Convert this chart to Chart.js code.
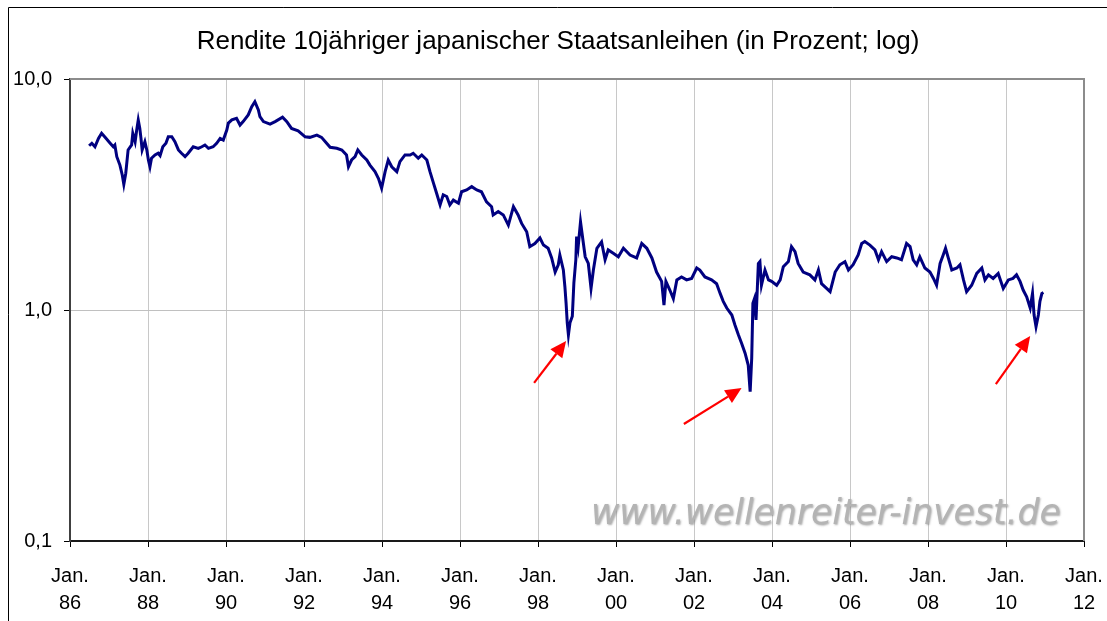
<!DOCTYPE html>
<html><head><meta charset="utf-8">
<script src="https://cdn.jsdelivr.net/npm/chart.js@4/dist/chart.umd.min.js"></script>
<style>html,body{margin:0;padding:0;background:#fff}#wrap{width:1107px;height:621px;position:relative}</style>
</head><body><div id="wrap"><canvas id="c" width="1107" height="621"></canvas></div>
<script>
const titleText = 'Rendite 10jähriger japanischer Staatsanleihen (in Prozent; log)';
const watermarkText = 'www.wellenreiter-invest.de';

// decimal years
const dates = [
1986.49,1986.56,1986.64,1986.73,1986.81,1986.90,1987.03,1987.11,1987.15,1987.20,
1987.28,1987.34,1987.38,1987.43,1987.49,1987.58,1987.61,1987.67,1987.71,1987.75,
1987.79,1987.82,1987.85,1987.92,1987.97,1988.01,1988.05,1988.09,1988.18,1988.26,
1988.31,1988.38,1988.46,1988.52,1988.61,1988.69,1988.78,1988.86,1988.95,1989.03,
1989.16,1989.29,1989.38,1989.46,1989.55,1989.67,1989.76,1989.85,1989.93,1990.02,
1990.06,1990.15,1990.27,1990.36,1990.44,1990.57,1990.66,1990.74,1990.83,1990.87,
1990.96,1991.13,1991.26,1991.45,1991.56,1991.68,1991.85,1992.03,1992.15,1992.33,
1992.45,1992.58,1992.67,1992.84,1992.97,1993.09,1993.14,1993.22,1993.31,1993.38,
1993.48,1993.61,1993.69,1993.82,1993.91,1993.99,1994.08,1994.16,1994.25,1994.38,
1994.46,1994.59,1994.72,1994.80,1994.93,1995.02,1995.15,1995.23,1995.32,1995.40,
1995.49,1995.57,1995.66,1995.74,1995.83,1995.96,1996.04,1996.17,1996.30,1996.43,
1996.55,1996.68,1996.81,1996.85,1996.98,1997.11,1997.24,1997.37,1997.49,1997.58,
1997.71,1997.79,1997.92,1998.05,1998.14,1998.26,1998.35,1998.44,1998.52,1998.56,
1998.65,1998.69,1998.72,1998.75,1998.78,1998.82,1998.88,1998.92,1998.97,1998.99,
1999.03,1999.09,1999.14,1999.21,1999.29,1999.36,1999.42,1999.51,1999.63,1999.72,
1999.80,1999.93,2000.06,2000.19,2000.36,2000.53,2000.66,2000.79,2000.92,2001.04,
2001.17,2001.23,2001.28,2001.38,2001.47,2001.56,2001.68,2001.81,2001.94,2002.07,
2002.15,2002.28,2002.45,2002.58,2002.67,2002.75,2002.84,2002.97,2003.05,2003.14,
2003.22,2003.31,2003.39,2003.44,2003.48,2003.51,2003.55,2003.59,2003.65,2003.69,
2003.73,2003.82,2003.91,2003.99,2004.12,2004.21,2004.29,2004.42,2004.50,2004.59,
2004.67,2004.80,2004.97,2005.10,2005.19,2005.27,2005.40,2005.49,2005.62,2005.74,
2005.87,2005.96,2006.08,2006.21,2006.30,2006.38,2006.51,2006.64,2006.73,2006.81,
2006.94,2007.07,2007.20,2007.32,2007.45,2007.54,2007.62,2007.71,2007.79,2007.92,
2008.05,2008.14,2008.22,2008.31,2008.39,2008.45,2008.52,2008.61,2008.74,2008.82,
2008.91,2008.99,2009.12,2009.25,2009.38,2009.46,2009.55,2009.67,2009.80,2009.93,
2010.06,2010.18,2010.27,2010.36,2010.44,2010.53,2010.62,2010.68,2010.72,2010.77,
2010.83,2010.87,2010.92,2010.96
];
// yield in percent
const yields = [
5.14,5.27,5.09,5.53,5.82,5.59,5.27,5.09,5.18,4.61,
4.24,3.84,3.50,3.91,4.93,5.18,5.82,5.35,6.01,6.65,
6.11,5.53,4.93,5.35,4.93,4.46,4.17,4.54,4.69,4.77,
4.66,5.09,5.27,5.62,5.62,5.35,4.93,4.77,4.61,4.77,
5.09,5.01,5.09,5.18,5.01,5.09,5.27,5.53,5.44,6.01,
6.44,6.65,6.76,6.32,6.54,6.99,7.59,7.97,7.34,6.87,
6.54,6.38,6.54,6.83,6.54,6.11,5.97,5.62,5.59,5.72,
5.59,5.27,5.06,5.01,4.93,4.69,4.17,4.46,4.61,4.93,
4.69,4.46,4.24,3.97,3.71,3.37,3.97,4.46,4.17,3.97,
4.39,4.69,4.69,4.77,4.54,4.69,4.46,3.97,3.54,3.20,
2.85,3.15,3.10,2.85,2.99,2.90,3.25,3.31,3.42,3.31,
3.25,2.94,2.80,2.58,2.67,2.58,2.33,2.80,2.58,2.37,
2.18,1.88,1.94,2.05,1.91,1.85,1.68,1.46,1.57,1.73,
1.49,1.26,1.07,0.88,0.78,0.88,0.94,1.31,1.65,2.08,
1.88,2.41,2.08,1.70,1.59,1.24,1.49,1.85,1.97,1.65,
1.82,1.76,1.70,1.85,1.73,1.68,1.94,1.85,1.68,1.46,
1.33,1.05,1.33,1.22,1.12,1.35,1.39,1.35,1.37,1.52,
1.49,1.39,1.35,1.30,1.18,1.09,1.02,0.951,0.861,0.779,
0.718,0.650,0.578,0.443,0.62,1.07,1.12,0.905,1.59,1.62,
1.28,1.49,1.35,1.33,1.28,1.35,1.54,1.62,1.88,1.79,
1.59,1.46,1.42,1.35,1.49,1.30,1.24,1.20,1.46,1.57,
1.62,1.49,1.57,1.73,1.94,1.98,1.91,1.82,1.65,1.79,
1.62,1.70,1.68,1.65,1.94,1.88,1.65,1.57,1.70,1.52,
1.46,1.37,1.28,1.59,1.73,1.85,1.68,1.49,1.52,1.57,
1.35,1.20,1.28,1.44,1.52,1.35,1.42,1.37,1.44,1.24,
1.35,1.37,1.42,1.33,1.22,1.14,1.02,1.18,0.951,0.847,
0.951,1.09,1.18,1.19
];

const xTickYears = [1986,1988,1990,1992,1994,1996,1998,2000,2002,2004,2006,2008,2010,2012];
const xTickLabels = [['Jan.','86'],['Jan.','88'],['Jan.','90'],['Jan.','92'],['Jan.','94'],['Jan.','96'],['Jan.','98'],
  ['Jan.','00'],['Jan.','02'],['Jan.','04'],['Jan.','06'],['Jan.','08'],['Jan.','10'],['Jan.','12']];
const yTickValues = [0.1, 1, 10];
const yTickLabels = ['0,1', '1,0', '10,0'];

// annotation arrows in data coordinates: [year, yield]
const arrowFrom = [[1997.90, 0.484], [2001.74, 0.321], [2009.74, 0.478]];
const arrowTo   = [[1998.72, 0.734], [2003.22, 0.459], [2010.62, 0.772]];

const FONT = "'Liberation Sans', Arial, sans-serif";

const decor = {
  id: 'decor',
  beforeDatasetsDraw(chart) {
    const ctx = chart.ctx;
    ctx.save();
    let size = 34;
    ctx.font = `italic ${size}px 'DejaVu Sans', Verdana, sans-serif`;
    const w = ctx.measureText(watermarkText).width;
    size = size * 470 / w;
    ctx.font = `italic ${size}px 'DejaVu Sans', Verdana, sans-serif`;
    ctx.textBaseline = 'alphabetic';
    ctx.textAlign = 'left';
    ctx.shadowColor = 'rgba(120,120,120,0.6)';
    ctx.shadowBlur = 2;
    ctx.shadowOffsetX = 1;
    ctx.shadowOffsetY = 1;
    ctx.fillStyle = '#b4b4b4';
    ctx.fillText(watermarkText, 591, 524);
    ctx.restore();
  },
  afterDatasetsDraw(chart) {
    const ctx = chart.ctx, a = chart.chartArea;
    const xs = chart.scales.x, ys = chart.scales.y;
    ctx.save();
    ctx.strokeStyle = '#8c8c8c';
    ctx.lineWidth = 2;
    ctx.beginPath();
    ctx.moveTo(a.left, a.top);
    ctx.lineTo(a.right, a.top);
    ctx.lineTo(a.right, a.bottom);
    ctx.stroke();
    ctx.strokeStyle = '#000';
    ctx.lineWidth = 1;
    ctx.beginPath();
    ctx.moveTo(8.5, 621);
    ctx.lineTo(8.5, 7.5);
    ctx.lineTo(1107, 7.5);
    ctx.stroke();
    ctx.fillStyle = '#000';
    ctx.font = `26px ${FONT}`;
    ctx.textAlign = 'center';
    ctx.textBaseline = 'middle';
    ctx.fillText(titleText, 558, 42);
    ctx.strokeStyle = '#ff0000';
    ctx.fillStyle = '#ff0000';
    for (let i = 0; i < arrowFrom.length; i++) {
      const x1 = xs.getPixelForValue(arrowFrom[i][0]), y1 = ys.getPixelForValue(arrowFrom[i][1]);
      const x2 = xs.getPixelForValue(arrowTo[i][0]), y2 = ys.getPixelForValue(arrowTo[i][1]);
      const ang = Math.atan2(y2 - y1, x2 - x1);
      const hl = 16, hw = 7.5;
      const bx = x2 - hl * Math.cos(ang), by = y2 - hl * Math.sin(ang);
      ctx.lineWidth = 2.2;
      ctx.beginPath();
      ctx.moveTo(x1, y1);
      ctx.lineTo(bx, by);
      ctx.stroke();
      ctx.beginPath();
      ctx.moveTo(x2, y2);
      ctx.lineTo(bx + hw * Math.sin(ang), by - hw * Math.cos(ang));
      ctx.lineTo(bx - hw * Math.sin(ang), by + hw * Math.cos(ang));
      ctx.closePath();
      ctx.fill();
    }
    ctx.restore();
  }
};

new Chart(document.getElementById('c'), {
  type: 'line',
  data: {
    datasets: [{
      data: dates.map((d, i) => ({ x: d, y: yields[i] })),
      borderColor: '#000080',
      borderWidth: 3,
      pointRadius: 0,
      tension: 0,
      fill: false
    }]
  },
  options: {
    responsive: false,
    animation: false,
    devicePixelRatio: 1,
    layout: { padding: { left: 0, top: 79, right: 23, bottom: 0 } },
    plugins: { legend: { display: false }, title: { display: false }, tooltip: { enabled: false } },
    scales: {
      x: {
        type: 'linear',
        min: 1986, max: 2012,
        afterBuildTicks: s => { s.ticks = xTickYears.map(v => ({ value: v })); },
        afterFit: s => { s.height = 80; s.paddingLeft = 0; s.paddingRight = 0; },
        ticks: {
          autoSkip: false, maxRotation: 0, minRotation: 0,
          padding: 16,
          color: '#000',
          font: { family: FONT, size: 20, lineHeight: 1.35 },
          callback: (v, i) => xTickLabels[i]
        },
        grid: {
          color: c => (c.tick && (c.tick.value === 1986 || c.tick.value === 2012)) ? 'rgba(0,0,0,0)' : '#c8c8c8',
          tickColor: '#000',
          tickLength: 6,
          lineWidth: 1
        },
        border: { display: true, color: '#1a1a1a', width: 2 }
      },
      y: {
        type: 'logarithmic',
        min: 0.1, max: 10,
        afterBuildTicks: s => { s.ticks = yTickValues.map(v => ({ value: v })); },
        afterFit: s => { s.width = 70; s.paddingTop = 0; s.paddingBottom = 0; },
        ticks: {
          padding: 12,
          color: '#000',
          font: { family: FONT, size: 20 },
          callback: (v, i) => yTickLabels[i]
        },
        grid: {
          color: c => (c.tick && c.tick.value === 1) ? '#c0c0c0' : 'rgba(0,0,0,0)',
          tickColor: '#000',
          tickLength: 6,
          lineWidth: 1
        },
        border: { display: true, color: '#404040', width: 2 }
      }
    }
  },
  plugins: [decor]
});
</script>
</body></html>
